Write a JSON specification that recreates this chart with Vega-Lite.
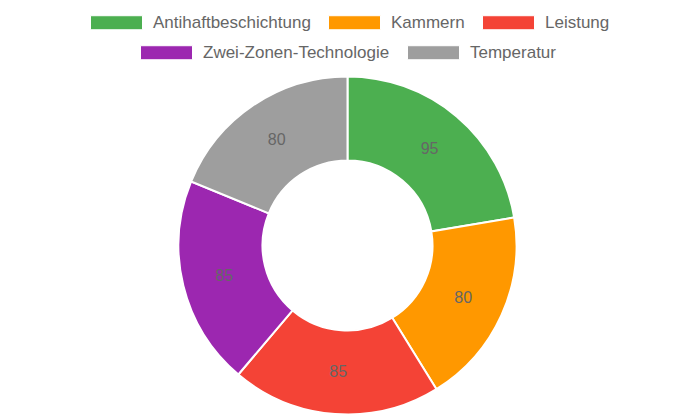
{
  "$schema": "https://vega.github.io/schema/vega-lite/v6.json",
  "width": 695,
  "height": 343,
  "autosize": {"type": "none"},
  "padding": {"left": 0, "right": 0, "top": 74, "bottom": 0},
  "background": "white",
  "config": {
    "view": {"stroke": null},
    "legend": {
      "labelFont": "Liberation Sans",
      "labelFontSize": 17,
      "labelColor": "#666666",
      "labelOffset": 10,
      "columnPadding": 15,
      "padding": 0,
      "labelLimit": 400
    }
  },
  "data": {
    "values": [
      {"i": 1, "cat": "Antihaftbeschichtung", "value": 95},
      {"i": 2, "cat": "Kammern", "value": 80},
      {"i": 3, "cat": "Leistung", "value": 85},
      {"i": 4, "cat": "Zwei-Zonen-Technologie", "value": 85},
      {"i": 5, "cat": "Temperatur", "value": 80}
    ]
  },
  "encoding": {
    "theta": {"field": "value", "type": "quantitative", "stack": true},
    "order": {"field": "i", "type": "quantitative"}
  },
  "layer": [
    {
      "mark": {"type": "arc", "innerRadius": 85, "outerRadius": 169, "stroke": "white", "strokeWidth": 2},
      "encoding": {
        "fill": {
          "field": "cat",
          "type": "nominal",
          "scale": {
            "domain": ["Antihaftbeschichtung", "Kammern", "Leistung", "Zwei-Zonen-Technologie", "Temperatur"],
            "range": ["#4CAF50", "#FF9800", "#F44336", "#9C27B0", "#9E9E9E"]
          },
          "legend": {
            "values": ["Antihaftbeschichtung", "Kammern", "Leistung"],
            "orient": "none",
            "legendX": 90,
            "legendY": -78,
            "direction": "horizontal",
            "title": null,
            "symbolType": "M-1,-0.27L1,-0.27L1,0.27L-1,0.27Z",
            "symbolSize": 2704,
            "symbolStrokeColor": "white",
            "symbolStrokeWidth": 1,
            "symbolOpacity": 1
          }
        }
      }
    },
    {
      "mark": {"type": "arc", "innerRadius": 85, "outerRadius": 169, "stroke": "white", "strokeWidth": 2},
      "encoding": {
        "color": {
          "field": "cat",
          "type": "nominal",
          "scale": {
            "domain": ["Zwei-Zonen-Technologie", "Temperatur", "Antihaftbeschichtung", "Kammern", "Leistung"],
            "range": ["#9C27B0", "#9E9E9E", "#4CAF50", "#FF9800", "#F44336"]
          },
          "legend": {
            "values": ["Zwei-Zonen-Technologie", "Temperatur"],
            "orient": "none",
            "legendX": 140,
            "legendY": -48,
            "direction": "horizontal",
            "title": null,
            "symbolType": "M-1,-0.27L1,-0.27L1,0.27L-1,0.27Z",
            "symbolSize": 2704,
            "symbolStrokeColor": "white",
            "symbolStrokeWidth": 1,
            "symbolOpacity": 1
          }
        }
      }
    },
    {
      "mark": {"type": "text", "radius": 127, "fontSize": 16, "font": "Liberation Sans", "fill": "#666666"},
      "encoding": {
        "text": {"field": "value", "type": "quantitative"}
      }
    }
  ]
}
